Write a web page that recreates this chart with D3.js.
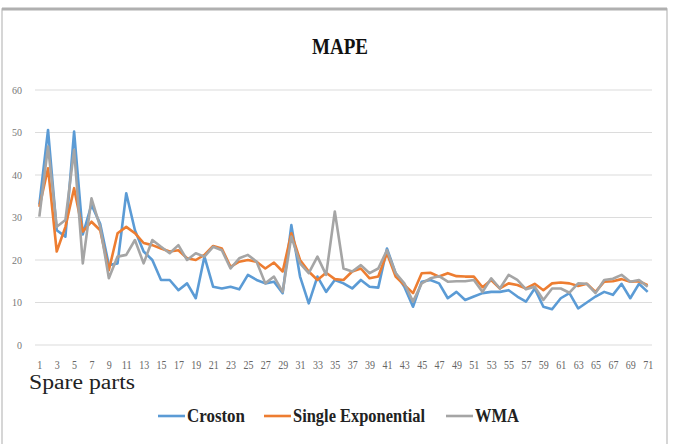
<!DOCTYPE html>
<html>
<head>
<meta charset="utf-8">
<script src="https://cdn.jsdelivr.net/npm/d3@7"></script>
<style>
  body { margin: 0; background: #fff; }
  svg { display: block; }
</style>
</head>
<body>
<div id="lineChart"></div>
<script>
var categories = d3.range(1, 72);

var croston = [33, 50.6, 27, 25.5, 50.2, 26, 33, 28.5, 18.8, 19.2,
  35.7, 27, 22, 20, 15.3, 15.3, 12.9, 14.5, 11, 20.8,
  13.7, 13.3, 13.7, 13.1, 16.5, 15.3, 14.5, 14.9, 12.2, 28.2,
  16.1, 9.8, 16.1, 12.5, 15.3, 14.5, 13.3, 15.3, 13.7, 13.5,
  22.7, 16.9, 13.7, 9, 14.9, 15.3, 14.5, 11, 12.5, 10.6,
  11.4, 12.2, 12.5, 12.5, 12.9, 11.4, 10.2, 13.3, 9, 8.4,
  11, 12.2, 8.6, 10, 11.4, 12.5, 11.8, 14.4, 11, 14.4, 12.5];

var singleExp = [32.5, 41.6, 22, 27.8, 36.9, 26.7, 29, 27, 17.6, 26.3,
  27.8, 26.3, 24, 23.5, 22.7, 22, 22.3, 20.4, 20, 21.2,
  23.3, 22.7, 18.4, 19.6, 20, 19.6, 18, 19.4, 17.3, 26.3,
  20, 17.3, 15.3, 17, 15.5, 15.3, 17.3, 18, 15.7, 16.1,
  21.6, 16.1, 14.1, 12.2, 16.9, 17, 16.1, 16.9, 16.2, 16.1,
  16.1, 13.6, 15.3, 13.3, 14.5, 14.1, 13.3, 14.4, 12.9, 14.5,
  14.7, 14.5, 13.9, 14.4, 12.5, 14.9, 15, 15.5, 14.9, 15, 14.1];

var wma = [30.2, 46.7, 27.8, 29.4, 45.9, 19.2, 34.5, 27.8, 15.7, 20.8,
  21.2, 24.7, 19.2, 24.7, 23.1, 21.6, 23.5, 20, 21.6, 20.8,
  23.1, 22.3, 18, 20.4, 21.2, 19.6, 14.5, 16.1, 12.5, 25.5,
  19.2, 16.9, 20.8, 16.5, 31.4, 18, 17.3, 18.8, 16.9, 18,
  22.3, 16.9, 14.5, 10.2, 14.5, 15.7, 16.2, 14.9, 15, 15,
  15.3, 12.5, 15.7, 13.3, 16.5, 15.3, 13.1, 13.7, 10.6, 13.3,
  13.3, 12.3, 14.5, 14.4, 12.2, 15.3, 15.6, 16.5, 14.9, 15.3, 13.7];

var yTicks = [0, 10, 20, 30, 40, 50, 60];

var seriesNames = ["Croston", "Single Exponential", "WMA"];
var seriesColors = ["#5B9BD5", "#ED7D31", "#A5A5A5"];
var seriesValues = [croston, singleExp, wma];

var serif = "'Liberation Serif', 'Times New Roman', serif";
var width = 676, height = 444;

var svg = d3.select("#lineChart").append("svg")
  .attr("width", width)
  .attr("height", height);

// chart frame
svg.append("rect")
  .attr("x", 2)
  .attr("y", 9)
  .attr("width", 665)
  .attr("height", 445)
  .attr("fill", "#fff")
  .attr("stroke", "#c9c9c9")
  .attr("stroke-width", 1.5);

svg.append("line")
  .attr("x1", 2).attr("x2", 667)
  .attr("y1", 9).attr("y2", 9)
  .attr("stroke", "#b0b0b0")
  .attr("stroke-width", 3);

svg.append("text")
  .attr("x", 340)
  .attr("y", 54)
  .attr("text-anchor", "middle")
  .style("font-family", serif)
  .attr("font-weight", "bold")
  .attr("font-size", 24)
  .attr("textLength", 56)
  .attr("lengthAdjust", "spacingAndGlyphs")
  .attr("fill", "#111")
  .text("MAPE");

var x = d3.scalePoint()
  .domain(categories)
  .range([35, 652])
  .padding(0.5);

var y = d3.scaleLinear()
  .domain([0, 60])
  .range([345, 90]);

// gridlines
svg.append("g")
  .selectAll("line")
  .data(yTicks)
  .enter().append("line")
  .attr("x1", 35)
  .attr("x2", 652)
  .attr("y1", function (d) { return y(d); })
  .attr("y2", function (d) { return y(d); })
  .attr("stroke", "#dcdcdc")
  .attr("stroke-width", 1.2);

var yAxis = d3.axisLeft(y)
  .tickValues(yTicks)
  .tickSize(0)
  .tickPadding(0);

svg.append("g")
  .attr("class", "y axis")
  .attr("transform", "translate(22,0)")
  .call(yAxis)
  .call(function (g) { g.select(".domain").remove(); })
  .selectAll("text")
  .style("font-family", serif)
  .attr("font-size", 10)
  .attr("fill", "#777");

var xAxis = d3.axisBottom(x)
  .tickValues(categories.filter(function (d) { return d % 2 === 1; }))
  .tickSize(0)
  .tickPadding(0);

svg.append("g")
  .attr("class", "x axis")
  .attr("transform", "translate(0,360)")
  .call(xAxis)
  .call(function (g) { g.select(".domain").remove(); })
  .selectAll("text")
  .style("font-family", serif)
  .attr("font-size", 12)
  .attr("fill", "#666")
  .attr("textLength", function (d) { return d < 10 ? 5 : 10; })
  .attr("lengthAdjust", "spacingAndGlyphs");

svg.append("text")
  .attr("x", 29)
  .attr("y", 389)
  .style("font-family", serif)
  .attr("font-size", 20)
  .attr("textLength", 106)
  .attr("lengthAdjust", "spacingAndGlyphs")
  .attr("fill", "#222")
  .text("Spare parts");

var line = d3.line()
  .x(function (d, i) { return x(categories[i]); })
  .y(function (d) { return y(d); });

svg.selectAll(".series")
  .data(seriesValues)
  .enter().append("path")
  .attr("class", "series")
  .attr("fill", "none")
  .attr("stroke", function (d, i) { return seriesColors[i]; })
  .attr("stroke-width", 2.6)
  .attr("stroke-linejoin", "round")
  .attr("d", line);

// legend
var legendX = [158, 264, 446];
var legendW = [58, 132, 44];

var legend = svg.selectAll(".legend")
  .data(seriesNames)
  .enter().append("g")
  .attr("class", "legend")
  .attr("transform", function (d, i) { return "translate(" + legendX[i] + ",416)"; });

legend.append("line")
  .attr("x1", 0).attr("x2", 27)
  .attr("y1", 0).attr("y2", 0)
  .attr("stroke", function (d, i) { return seriesColors[i]; })
  .attr("stroke-width", 2.6);

legend.append("text")
  .attr("x", 29)
  .attr("y", 6)
  .style("font-family", serif)
  .attr("font-weight", "bold")
  .attr("font-size", 18)
  .attr("textLength", function (d, i) { return legendW[i]; })
  .attr("lengthAdjust", "spacingAndGlyphs")
  .attr("fill", "#222")
  .text(function (d) { return d; });
</script>
</body>
</html>
